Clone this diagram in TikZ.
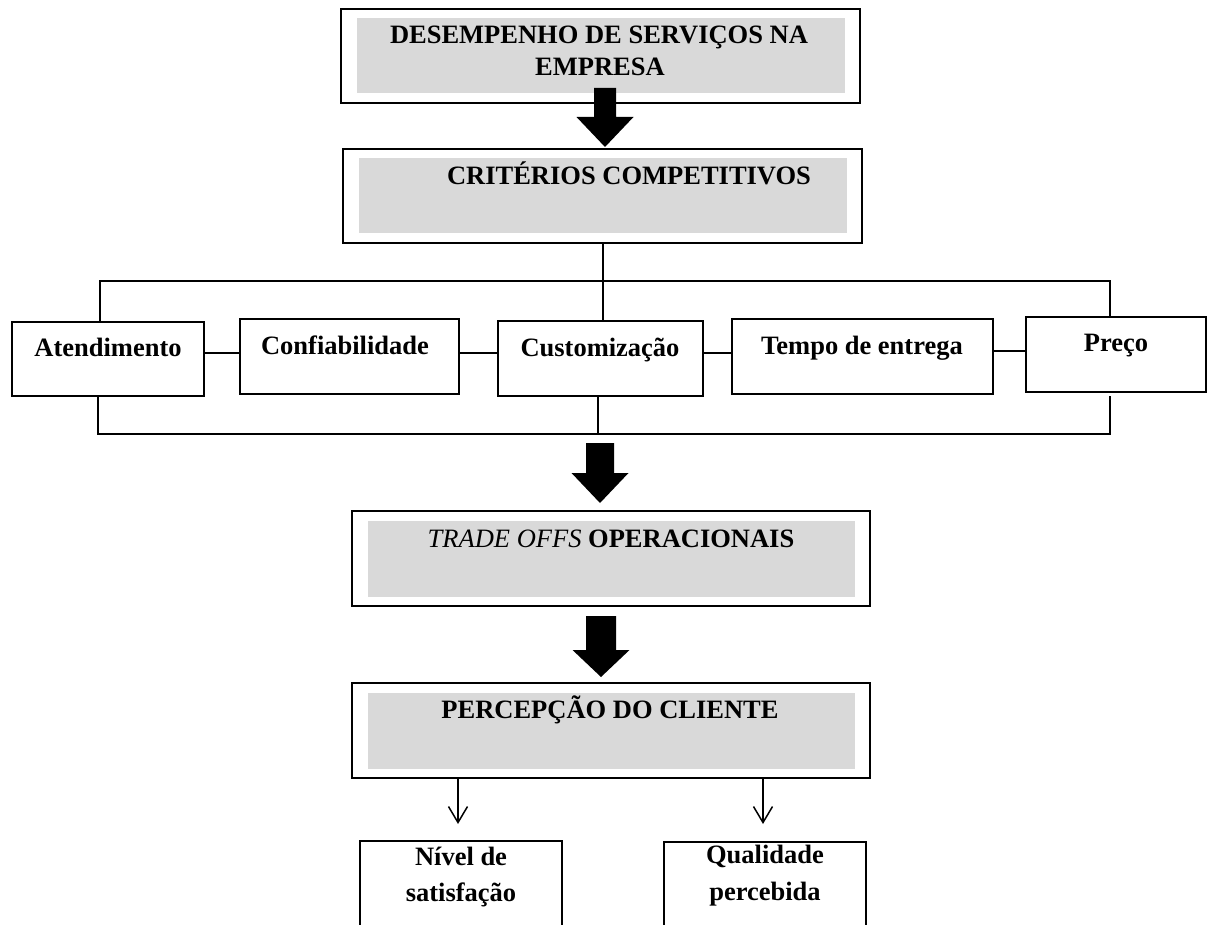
\documentclass[tikz,border=0pt]{standalone}
\usepackage{fontspec}
\setmainfont{Liberation Serif}
\usetikzlibrary{arrows.meta,calc,fit}
\definecolor{panelgray}{RGB}{217,217,217}

% solid block arrow pointing down: centre x, shaft top, head base, tip, shaft half width, head half width
\newcommand\fatarrow[6]{%
  \fill[black] (#1-#5,#2) -- (#1+#5,#2) -- (#1+#5,#3) -- (#1+#6,#3) -- (#1,#4)
    -- (#1-#6,#3) -- (#1-#5,#3) -- cycle;}

\begin{document}
\begin{tikzpicture}[x=1pt,y=-1pt,
  frame/.style={draw=black,line width=2pt,fill=white,inner sep=0pt,rectangle},
  lbl/.style={font=\fontsize{26.5}{32}\selectfont\bfseries,inner sep=0pt,anchor=base},
  link/.style={draw=black,line width=2pt},
  smallarrow/.style={draw=black,line width=1.5pt,
    -{Straight Barb[length=16pt,width=19pt,line width=1.5pt]}},
  panel/.style={fill=panelgray},
]
\clip (0,0) rectangle (1208,925);
\fill[white] (0,0) rectangle (1208,925);

% ---- heading boxes with grey panels ----
\node[frame,fit={(341,9) (860,103)}] (top) {};
\node[frame,fit={(343,149) (862,243)}] (crit) {};
\node[frame,fit={(352,511) (870,606)}] (trade) {};
\node[frame,fit={(352,683) (870,778)}] (perc) {};
\foreach \b in {top,crit,trade,perc}
  \fill[panel] ([xshift=16.5pt,yshift=-10.5pt]\b.north west)
    rectangle ([xshift=-16.5pt,yshift=10.5pt]\b.south east);

\node[lbl] (topA) at (599,44) {DESEMPENHO DE SERVIÇOS NA};
\node[lbl] (topB) at (600,76) {EMPRESA};
\node[lbl] (critT) at (629,185) {CRITÉRIOS COMPETITIVOS};
\node[lbl] (tradeT) at (611,547) {{\mdseries\itshape TRADE OFFS} OPERACIONAIS};
\node[lbl] (percT) at (610,718) {PERCEPÇÃO DO CLIENTE};

% ---- competitive criteria ----
\node[frame,fit={(12,322) (204,396)}] (atend) {};
\node[frame,fit={(240,319) (459,394)}] (conf) {};
\node[frame,fit={(498,321) (703,396)}] (cust) {};
\node[frame,fit={(732,319) (993,394)}] (tempo) {};
\node[frame,fit={(1026,317) (1206,392)}] (preco) {};

\node[lbl] (atendT) at (108,357) {Atendimento};
\node[lbl] (confT) at (345,355) {Confiabilidade};
\node[lbl] (custT) at (600,357) {Customização};
\node[lbl] (tempoT) at (862,355) {Tempo de entrega};
\node[lbl] (precoT) at (1116,352) {Preço};

% links between neighbouring criteria
\draw[link] ([yshift=6pt]atend.east) coordinate (h1) -- (h1 -| conf.west);
\draw[link] ([yshift=3.5pt]conf.east) coordinate (h2) -- (h2 -| cust.west);
\draw[link] ([yshift=5.5pt]cust.east) coordinate (h3) -- (h3 -| tempo.west);
\draw[link] ([yshift=5.5pt]tempo.east) coordinate (h4) -- (h4 -| preco.west);

% upper and lower bus lines
\coordinate (busTL) at (100,281);
\coordinate (busTR) at (1110,281);
\coordinate (busBL) at (98,434);
\coordinate (busBM) at (598,434);
\coordinate (busBR) at (1110,434);
\draw[link] (busTL |- atend.north) -- (busTL) -- (busTR) -- (busTR |- preco.north);
\draw[link] (crit.south) -- (crit.south |- cust.north);
\draw[link] (busBL |- atend.south) -- (busBL) -- (busBR) -- ($(busBR |- preco.south)+(0,3)$);
\draw[link] (busBM |- cust.south) -- (busBM);

% ---- customer outcomes ----
\node[frame,fit={(360,841) (562,945)}] (nivel) {};
\node[frame,fit={(664,842) (866,945)}] (qual) {};
\node[lbl] (nivelA) at (461,865) {Nível de};
\node[lbl] (nivelB) at (461,901) {satisfação};
\node[lbl] (qualA) at (765,863) {Qualidade};
\node[lbl] (qualB) at (765,900) {percebida};

\coordinate (tipL) at (458,824);
\coordinate (tipR) at (763,824);
\draw[smallarrow] (tipL |- perc.south) -- (tipL);
\draw[smallarrow] (tipR |- perc.south) -- (tipR);

% ---- block arrows between stages ----
\fatarrow{605}{88}{117}{147}{11}{28.5}
\fatarrow{600}{443}{473}{503}{14}{28.5}
\fatarrow{601}{616}{650}{677}{15}{28.5}
\end{tikzpicture}
\end{document}
